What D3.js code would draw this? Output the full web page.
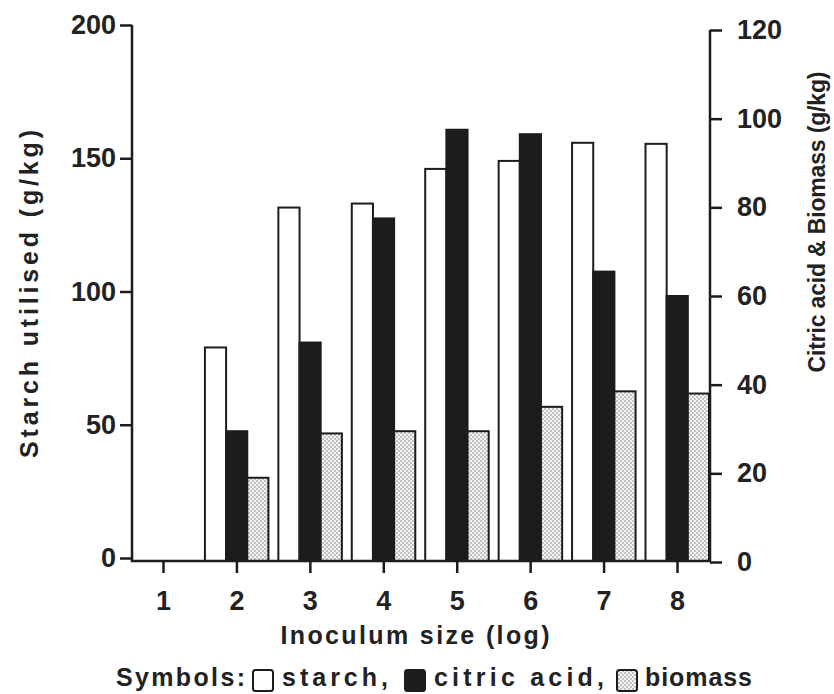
<!DOCTYPE html>
<html>
<head>
<meta charset="utf-8">
<script src="https://cdn.jsdelivr.net/npm/d3@7"></script>
<style>
    body { margin: 0; background: #fff; }
    svg text { font-family: "Liberation Sans", Arial, sans-serif; font-weight: bold; fill: #222; }
</style>
</head>
<body>
<svg width="834" height="694"></svg>
<script>
'use strict';

// inoculum size (log)
var inoculum = [1, 2, 3, 4, 5, 6, 7, 8];
// g/kg
var starch = [0, 79, 131.5, 133, 146, 149, 155.8, 155.4];
var citricAcid = [0, 29.5, 49.5, 77.5, 97.5, 96.5, 65.5, 60];
var biomass = [0, 19, 29, 29.5, 29.5, 35, 38.5, 38];

var leftTicks = [0, 50, 100, 150, 200];
var rightTicks = [0, 20, 40, 60, 80, 100, 120];
var seriesNames = ['starch', 'citric', 'biomass'];

var svg = d3.select('svg');
var baseY = 561;

var x = d3.scaleLinear().domain([1, 8]).range([163, 677]);
var yLeft = d3.scaleLinear().domain([0, 200]).range([558, 25]);
var yRight = d3.scaleLinear().domain([0, 120]).range([562, 30]);
var xSeries = d3.scaleBand().domain(seriesNames).range([-31.5, 32]);

// stipple for biomass
var pat = svg.append('defs').append('pattern')
    .attr('id', 'stipple')
    .attr('patternUnits', 'userSpaceOnUse')
    .attr('width', 4).attr('height', 4);
pat.append('rect').attr('width', 4).attr('height', 4).attr('fill', '#f4f4f4');
pat.append('circle').attr('cx', 1).attr('cy', 1).attr('r', 0.75).attr('fill', '#777');
pat.append('circle').attr('cx', 3).attr('cy', 3).attr('r', 0.75).attr('fill', '#777');

var styles = {
    starch: { fill: '#fff', scale: yLeft, values: starch },
    citric: { fill: '#1c1c1c', scale: yRight, values: citricAcid },
    biomass: { fill: 'url(#stipple)', scale: yRight, values: biomass }
};

function drawBars () {
    seriesNames.forEach(function (name) {
        var s = styles[name];
        svg.append('g')
            .selectAll('rect')
            .data(inoculum.map(function (c, i) { return { c: c, v: s.values[i] }; })
                .filter(function (d) { return d.v > 0; }))
            .enter()
            .append('rect')
            .attr('x', function (d) { return x(d.c) + xSeries(name); })
            .attr('width', xSeries.bandwidth())
            .attr('y', function (d) { return s.scale(d.v); })
            .attr('height', function (d) { return baseY - s.scale(d.v); })
            .attr('fill', s.fill)
            .attr('stroke', '#1c1c1c')
            .attr('stroke-width', 2);
    });
}

function drawAxes () {
    var gl = svg.append('g')
        .attr('transform', 'translate(132,0)')
        .call(d3.axisLeft(yLeft).tickValues(leftTicks).tickSize(12).tickSizeOuter(0).tickPadding(4));
    var gr = svg.append('g')
        .attr('transform', 'translate(710,0)')
        .call(d3.axisRight(yRight).tickValues(rightTicks).tickSize(12).tickSizeOuter(0).tickPadding(15));
    var gx = svg.append('g')
        .attr('transform', 'translate(0,' + baseY + ')')
        .call(d3.axisBottom(x).tickValues(inoculum).tickFormat(d3.format('d')).tickSize(12).tickSizeOuter(0).tickPadding(18));

    [gl, gr, gx].forEach(function (g) {
        g.select('.domain').remove();
        g.selectAll('line').attr('stroke', '#1c1c1c').attr('stroke-width', 2.5);
        g.selectAll('text').attr('font-size', 27).attr('fill', '#222')
            .style('font-family', '"Liberation Sans", Arial, sans-serif').style('font-weight', 'bold');
    });

    // axis lines, drawn by hand so they meet the baseline
    svg.append('path')
        .attr('d', 'M132,' + yLeft(200) + 'V' + baseY + 'H710V' + yRight(120))
        .attr('fill', 'none')
        .attr('stroke', '#1c1c1c')
        .attr('stroke-width', 2.5);
}

function drawTitles () {
    svg.append('text')
        .attr('transform', 'translate(38,294) rotate(-90)')
        .attr('text-anchor', 'middle')
        .attr('font-size', 25)
        .attr('textLength', 328)
        .attr('lengthAdjust', 'spacing')
        .text('Starch utilised (g/kg)');

    svg.append('text')
        .attr('transform', 'translate(825,222) rotate(-90)')
        .attr('text-anchor', 'middle')
        .attr('font-size', 23)
        .attr('textLength', 301)
        .attr('lengthAdjust', 'spacing')
        .text('Citric acid & Biomass (g/kg)');

    svg.append('text')
        .attr('x', 415)
        .attr('y', 644)
        .attr('text-anchor', 'middle')
        .attr('font-size', 25)
        .attr('textLength', 269)
        .attr('lengthAdjust', 'spacing')
        .text('Inoculum size (log)');
}

function drawLegend () {
    var texts = [
        { t: 'Symbols:', x: 116, w: 129 },
        { t: 'starch,', x: 282, w: 106 },
        { t: 'citric acid,', x: 434, w: 170 },
        { t: 'biomass', x: 645, w: 107 }
    ];
    var boxes = [
        { x: 253, fill: '#fff' },
        { x: 405, fill: '#1c1c1c' },
        { x: 617, fill: 'url(#stipple)' }
    ];
    var leg = svg.append('g');
    leg.selectAll('text')
        .data(texts)
        .enter()
        .append('text')
        .attr('x', function (d) { return d.x; })
        .attr('y', 686)
        .attr('font-size', 25)
        .attr('textLength', function (d) { return d.w; })
        .attr('lengthAdjust', 'spacing')
        .text(function (d) { return d.t; });
    leg.selectAll('rect')
        .data(boxes)
        .enter()
        .append('rect')
        .attr('x', function (d) { return d.x; })
        .attr('y', 670)
        .attr('width', 20)
        .attr('height', 21)
        .attr('rx', 2.5)
        .attr('fill', function (d) { return d.fill; })
        .attr('stroke', '#1c1c1c')
        .attr('stroke-width', 2);
}

drawBars();
drawAxes();
drawTitles();
drawLegend();
</script>
</body>
</html>
